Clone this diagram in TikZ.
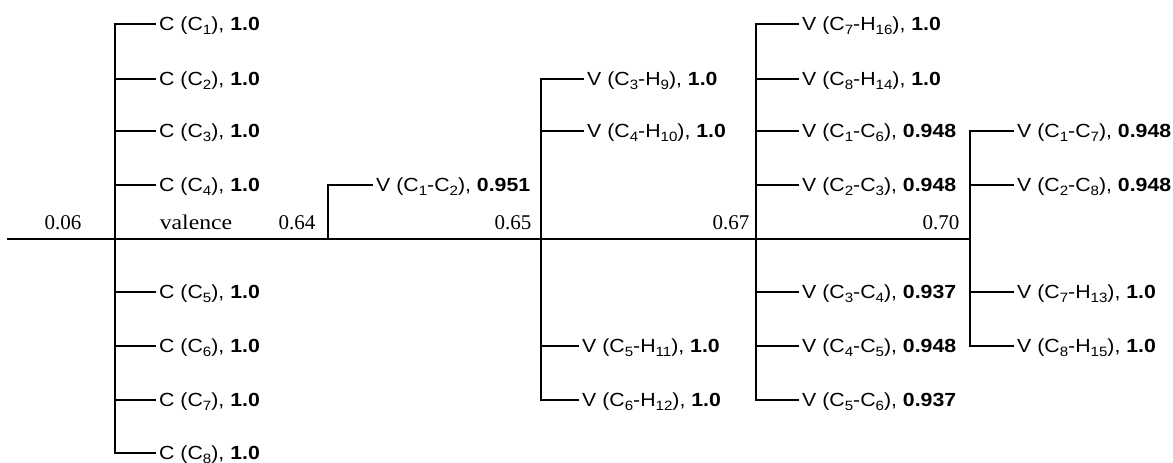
\documentclass[tikz,border=0pt]{standalone}
\usepackage{fontspec}
\setmainfont{Liberation Serif}
\newfontfamily\labelfont[FakeStretch=1.12]{Liberation Sans}
% lowered, smaller index digits
\newcommand\sbs[1]{\raisebox{-0.22em}{\fontsize{13.5}{13.5}\selectfont #1}}
\begin{document}
\begin{tikzpicture}[x=1pt,y=-1pt,
  lbl/.style={anchor=west,inner xsep=4pt,inner ysep=0pt,text height=13.6pt,text depth=0pt,
              font=\labelfont\fontsize{19}{22}\selectfont},
  val/.style={inner sep=0pt,anchor=base,font=\fontsize{21}{24}\selectfont},
  tree/.style={line width=1.3pt,line cap=rect}]
\useasboundingbox (0,0) rectangle (1173,463);

% junctions on the main axis
\coordinate (start) at (8,239);
\coordinate (j1) at (115,239);
\coordinate (j2) at (328,239);
\coordinate (j3) at (541,239);
\coordinate (j4) at (756,239);
\coordinate (j5) at (970,239);

% axis values
\node[val] (a1) at (63,229) {0.06};
\node[val] (a2) at (196,229) {\scalebox{1.13}[1]{valence}};
\node[val] (a3) at (297,229) {0.64};
\node[val] (a4) at (513,229) {0.65};
\node[val] (a5) at (731,229) {0.67};
\node[val] (a6) at (941,229) {0.70};

% core basins
\node[lbl] (c1) at (155,24)  {C (C\sbs{1}), \textbf{1.0}};
\node[lbl] (c2) at (155,79)  {C (C\sbs{2}), \textbf{1.0}};
\node[lbl] (c3) at (155,131) {C (C\sbs{3}), \textbf{1.0}};
\node[lbl] (c4) at (155,185) {C (C\sbs{4}), \textbf{1.0}};
\node[lbl] (c5) at (155,292) {C (C\sbs{5}), \textbf{1.0}};
\node[lbl] (c6) at (155,346) {C (C\sbs{6}), \textbf{1.0}};
\node[lbl] (c7) at (155,400) {C (C\sbs{7}), \textbf{1.0}};
\node[lbl] (c8) at (155,453) {C (C\sbs{8}), \textbf{1.0}};

% valence basins
\node[lbl] (v12) at (372,185) {V (C\sbs{1}-C\sbs{2}), \textbf{0.951}};

\node[lbl] (v39)  at (583,79)  {V (C\sbs{3}-H\sbs{9}), \textbf{1.0}};
\node[lbl] (v410) at (583,131) {V (C\sbs{4}-H\sbs{10}), \textbf{1.0}};
\node[lbl] (v511) at (578,346) {V (C\sbs{5}-H\sbs{11}), \textbf{1.0}};
\node[lbl] (v612) at (578,400) {V (C\sbs{6}-H\sbs{12}), \textbf{1.0}};

\node[lbl] (v716) at (798,24)  {V (C\sbs{7}-H\sbs{16}), \textbf{1.0}};
\node[lbl] (v814) at (798,79)  {V (C\sbs{8}-H\sbs{14}), \textbf{1.0}};
\node[lbl] (v16)  at (798,131) {V (C\sbs{1}-C\sbs{6}), \textbf{0.948}};
\node[lbl] (v23)  at (798,185) {V (C\sbs{2}-C\sbs{3}), \textbf{0.948}};
\node[lbl] (v34)  at (798,292) {V (C\sbs{3}-C\sbs{4}), \textbf{0.937}};
\node[lbl] (v45)  at (798,346) {V (C\sbs{4}-C\sbs{5}), \textbf{0.948}};
\node[lbl] (v56)  at (798,400) {V (C\sbs{5}-C\sbs{6}), \textbf{0.937}};

\node[lbl] (v17)  at (1013,131) {V (C\sbs{1}-C\sbs{7}), \textbf{0.948}};
\node[lbl] (v28)  at (1013,185) {V (C\sbs{2}-C\sbs{8}), \textbf{0.948}};
\node[lbl] (v713) at (1013,292) {V (C\sbs{7}-H\sbs{13}), \textbf{1.0}};
\node[lbl] (v815) at (1013,346) {V (C\sbs{8}-H\sbs{15}), \textbf{1.0}};

% main axis
\draw[tree] (start) -- (j5);

% first split
\draw[tree] (c1.west) -| (j1) |- (c8.west);
\foreach \n in {c2,c3,c4,c5,c6,c7} \draw[tree] (j1 |- \n.west) -- (\n.west);

% second split
\draw[tree] (j2) |- (v12.west);

% third split
\draw[tree] (v39.west) -| (j3) |- (v612.west);
\foreach \n in {v410,v511} \draw[tree] (j3 |- \n.west) -- (\n.west);

% fourth split
\draw[tree] (v716.west) -| (j4) |- (v56.west);
\foreach \n in {v814,v16,v23,v34,v45} \draw[tree] (j4 |- \n.west) -- (\n.west);

% fifth split
\draw[tree] (v17.west) -| (j5) |- (v815.west);
\foreach \n in {v28,v713} \draw[tree] (j5 |- \n.west) -- (\n.west);
\end{tikzpicture}
\end{document}
